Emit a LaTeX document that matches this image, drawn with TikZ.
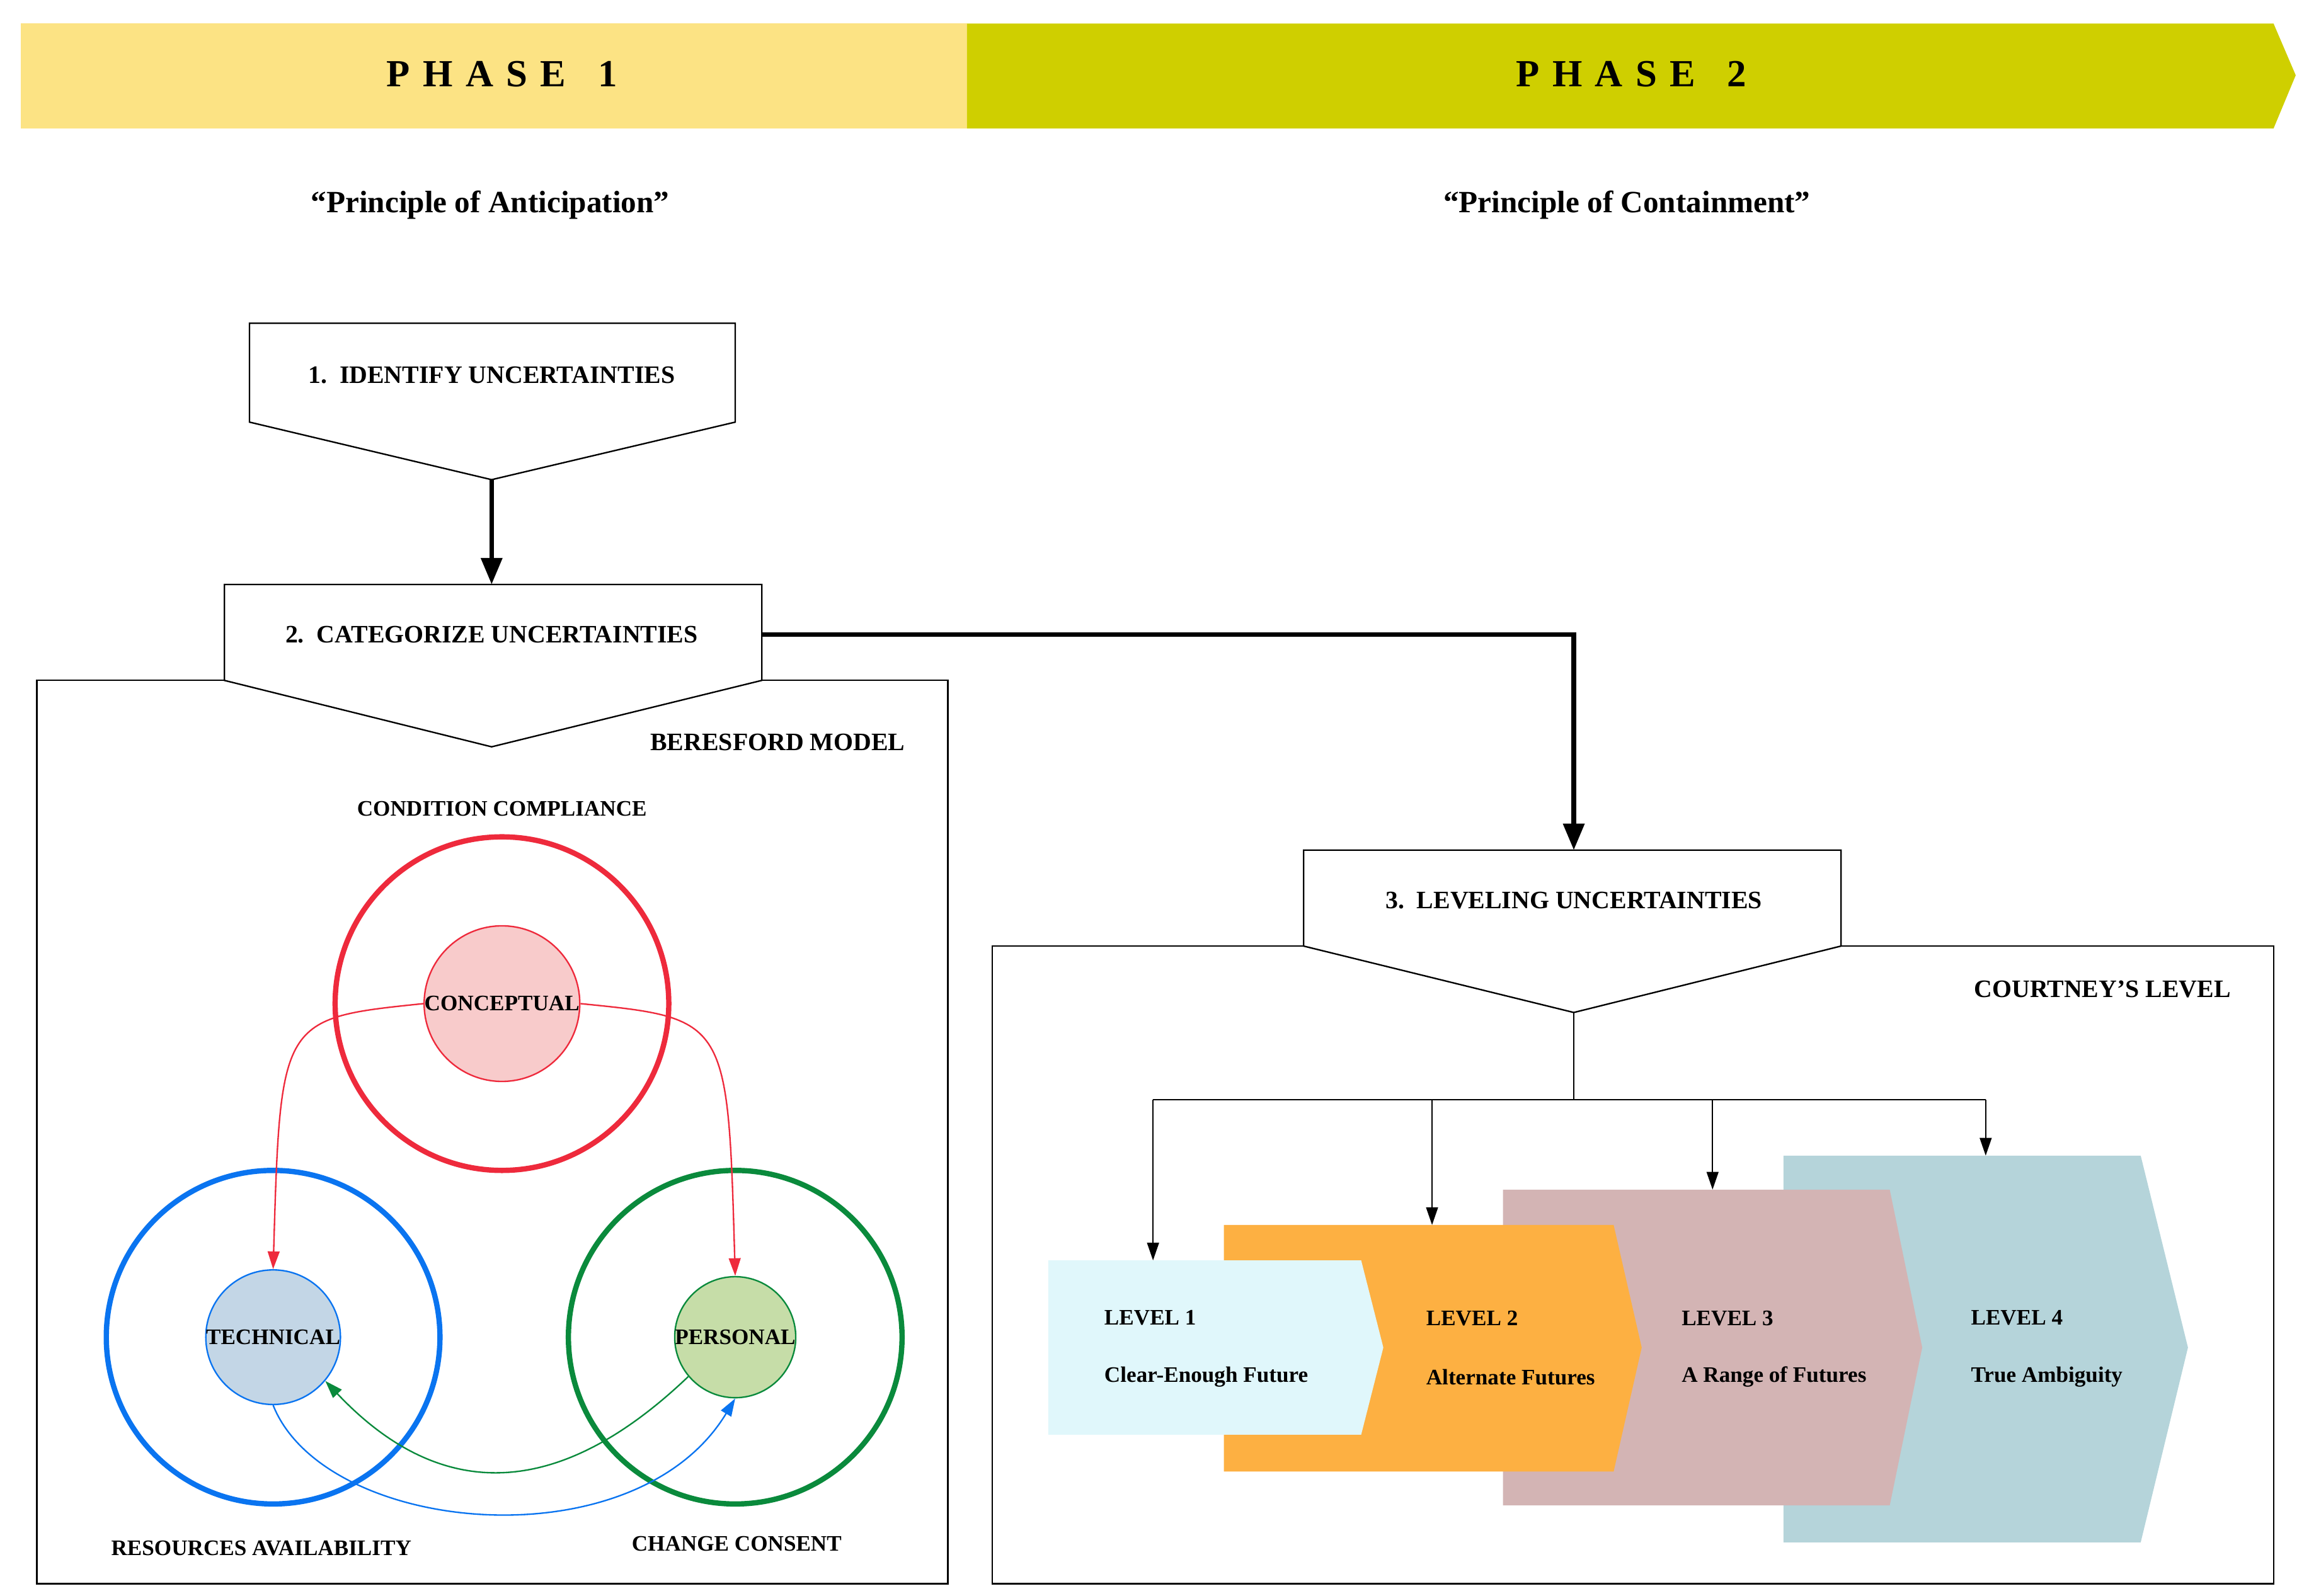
\documentclass[tikz,border=0pt]{standalone}
\usepackage{fontspec}
\setmainfont{Liberation Serif}
\usetikzlibrary{arrows.meta}
\definecolor{ph1}{HTML}{FCE384}
\definecolor{ph2}{HTML}{CFCF00}
\definecolor{cred}{HTML}{EE2A3C}
\definecolor{cblue}{HTML}{0A74F0}
\definecolor{cgreen}{HTML}{0A8A3C}
\definecolor{fred}{HTML}{F8CBCB}
\definecolor{fblue}{HTML}{C3D6E6}
\definecolor{fgreen}{HTML}{C6DDA8}
\definecolor{l1}{HTML}{E0F7FB}
\definecolor{l2}{HTML}{FDB042}
\definecolor{l3}{HTML}{D3B4B4}
\definecolor{l4}{HTML}{B5D4DA}
\begin{document}
\begin{tikzpicture}[x=0.5pt,y=-0.5pt,
  lbl/.style={font=\bfseries\fontsize{8.5}{10}\selectfont},
  sm/.style={font=\bfseries\fontsize{7.5}{9}\selectfont},
  box/.style={draw=black,fill=white,line width=0.5pt},
  thick/.style={line width=1.6pt,-{Triangle[length=9pt,width=7pt]}},
  thin/.style={line width=0.5pt,-{Triangle[length=6pt,width=4pt]}}]
\useasboundingbox (0,0) rectangle (1564,1081);
% phases
\fill[ph1] (14,16) rectangle (655,87);
\fill[ph2] (655,16) -- (1540,16) -- (1555,51) -- (1540,87) -- (655,87) -- cycle;
\node[font=\bfseries\fontsize{13}{15}\selectfont] (p1) at (340,50) {P\,\,H\,\,A\,\,S\,\,E\,\,\,\,\,1};
\node[font=\bfseries\fontsize{13}{15}\selectfont] (p2) at (1105,50) {P\,\,H\,\,A\,\,S\,\,E\,\,\,\,\,2};
\node[font=\bfseries\fontsize{10.5}{12}\selectfont] (q1) at (332,139) {“Principle of Anticipation”};
\node[font=\bfseries\fontsize{10.5}{12}\selectfont] (q2) at (1102,139) {“Principle of Containment”};
% frames
\draw[line width=0.5pt] (25,461) rectangle (642,1073);
\draw[line width=0.5pt] (672,641) rectangle (1540,1073);
% box1
\draw[box] (169,219) -- (498,219) -- (498,286) -- (333,325) -- (169,286) -- cycle;
\node[lbl] (b1) at (333,254) {1.\ \ IDENTIFY UNCERTAINTIES};
\coordinate (b1t) at (333,325);
% box2
\draw[box] (152,396) -- (516,396) -- (516,461) -- (333,506) -- (152,461) -- cycle;
\node[lbl] (b2) at (333,430) {2.\ \ CATEGORIZE UNCERTAINTIES};
\coordinate (b2top) at (333,396);
\coordinate (b2r) at (516,430);
\draw[thick] (b1t) -- (b2top);
% box3
\draw[box] (883,576) -- (1247,576) -- (1247,641) -- (1066,686) -- (883,641) -- cycle;
\node[lbl] (b3) at (1066,610) {3.\ \ LEVELING UNCERTAINTIES};
\coordinate (b3top) at (1066,576);
\coordinate (b3t) at (1066,686);
\draw[thick] (b2r) -- (1066,430) -- (b3top);
\node[lbl,anchor=east] (bm) at (620,503) {BERESFORD MODEL};
\node[lbl,anchor=east] (cl) at (1518,670) {COURTNEY’S LEVEL};
% circles
\draw[cred,line width=1.8pt] (340,680) circle (113);
\draw[cblue,line width=1.8pt] (185,906) circle (113);
\draw[cgreen,line width=1.8pt] (498,906) circle (113);
\node[circle,draw=cred,fill=fred,minimum size=38pt,inner sep=0,line width=0.5pt,sm] (con) at (340,680) {CONCEPTUAL};
\node[circle,draw=cblue,fill=fblue,minimum size=38pt,inner sep=0,line width=0.5pt,sm] (tec) at (185,906) {TECHNICAL};
\node[circle,draw=cgreen,fill=fgreen,minimum size=38pt,inner sep=0,line width=0.5pt,sm] (per) at (498,906) {PERSONAL};
\node[sm] (cc) at (340,548) {CONDITION COMPLIANCE};
\node[sm] (ra) at (177,1049) {RESOURCES AVAILABILITY};
\node[sm] (chc) at (499,1046) {CHANGE CONSENT};
\draw[thin,cred] (con.west) .. controls (190,690) .. (tec.north);
\draw[thin,cred] (con.east) .. controls (493,690) .. (per.north);
\draw[thin,cgreen] (per.-140) .. controls (380,1015) and (300,1020) .. (tec.-40);
\draw[thin,cblue] (tec.south) .. controls (220,1040) and (430,1060) .. (per.-90);
% levels
\fill[l4] (1208,783) -- (1450,783) -- (1482,913) -- (1450,1045) -- (1208,1045) -- cycle;
\fill[l3] (1018,806) -- (1280,806) -- (1302,913) -- (1280,1020) -- (1018,1020) -- cycle;
\fill[l2] (829,830) -- (1093,830) -- (1112,913) -- (1093,997) -- (829,997) -- cycle;
\fill[l1] (710,854) -- (922,854) -- (937,913) -- (922,972) -- (710,972) -- cycle;
\coordinate (t1) at (781,854);
\coordinate (t2) at (970,830);
\coordinate (t3) at (1160,806);
\coordinate (t4) at (1345,783);
\draw[line width=0.5pt] (b3t) -- (1066,745);
\draw[line width=0.5pt] (781,745) -- (1345,745);
\draw[thin] (781,745) -- (t1);
\draw[thin] (970,745) -- (t2);
\draw[thin] (1160,745) -- (t3);
\draw[thin] (1345,745) -- (t4);
\node[sm,anchor=west] (a1) at (741,893) {LEVEL 1};
\node[sm,anchor=west] (a2) at (741,933) {Clear-Enough Future};
\node[sm,anchor=west] (c1) at (959,893) {LEVEL 2};
\node[sm,anchor=west] (c2) at (959,933) {Alternate Futures};
\node[sm,anchor=west] (d1) at (1132,893) {LEVEL 3};
\node[sm,anchor=west] (d2) at (1132,933) {A Range of Futures};
\node[sm,anchor=west] (e1) at (1328,893) {LEVEL 4};
\node[sm,anchor=west] (e2) at (1328,933) {True Ambiguity};
\end{tikzpicture}
\end{document}
